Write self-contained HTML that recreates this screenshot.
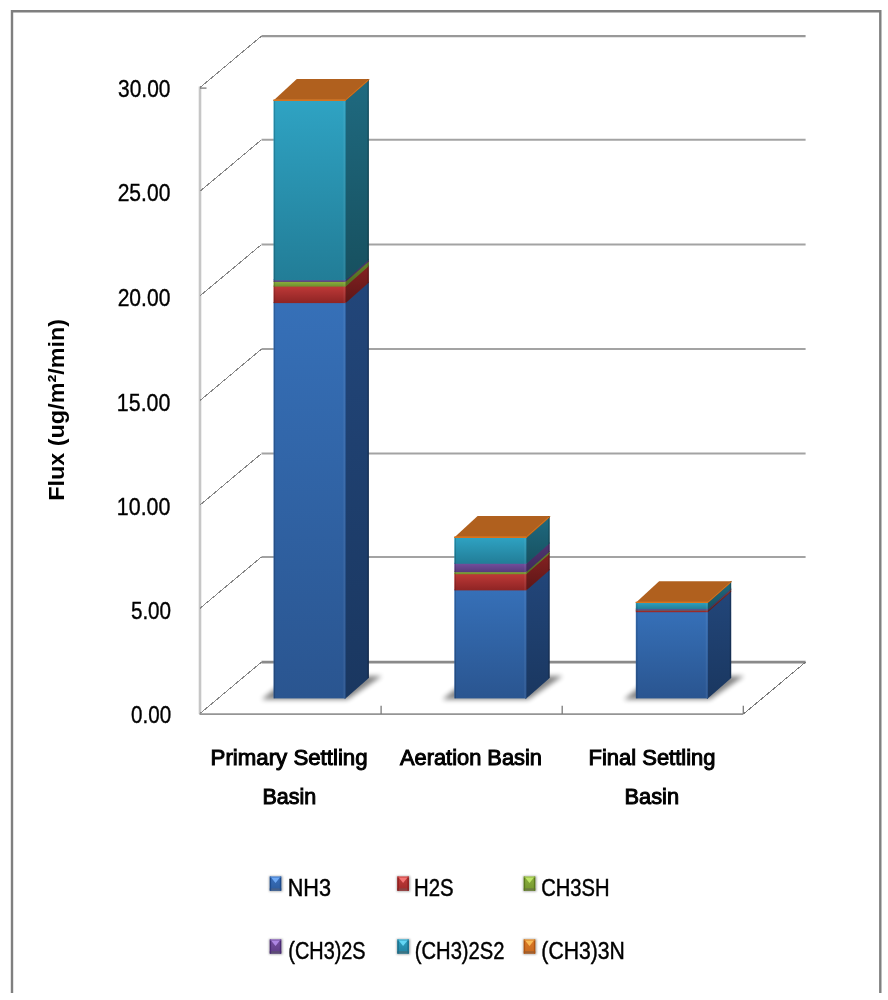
<!DOCTYPE html>
<html><head><meta charset="utf-8"><style>
html,body{margin:0;padding:0;background:#fff;width:888px;height:1000px;overflow:hidden;font-family:"Liberation Sans",sans-serif;}
svg{display:block;filter:blur(0.45px);}
</style></head><body>
<svg width="888" height="1000" viewBox="0 0 888 1000">
<defs>
<linearGradient id="fBlue" x1="0" y1="0" x2="0" y2="1"><stop offset="0" stop-color="#3670b8"/><stop offset="1" stop-color="#2a5590"/></linearGradient>
<linearGradient id="sBlue" x1="0" y1="0" x2="0" y2="1"><stop offset="0" stop-color="#22467a"/><stop offset="1" stop-color="#1a3760"/></linearGradient>
<linearGradient id="fRed" x1="0" y1="0" x2="0" y2="1"><stop offset="0" stop-color="#c03a38"/><stop offset="1" stop-color="#8e2424"/></linearGradient>
<linearGradient id="sRed" x1="0" y1="0" x2="0" y2="1"><stop offset="0" stop-color="#862222"/><stop offset="1" stop-color="#5c1616"/></linearGradient>
<linearGradient id="fGreen" x1="0" y1="0" x2="0" y2="1"><stop offset="0" stop-color="#90b43e"/><stop offset="1" stop-color="#6e8e2e"/></linearGradient>
<linearGradient id="sGreen" x1="0" y1="0" x2="0" y2="1"><stop offset="0" stop-color="#66862a"/><stop offset="1" stop-color="#4e6820"/></linearGradient>
<linearGradient id="fPurple" x1="0" y1="0" x2="0" y2="1"><stop offset="0" stop-color="#75509f"/><stop offset="1" stop-color="#573a7c"/></linearGradient>
<linearGradient id="sPurple" x1="0" y1="0" x2="0" y2="1"><stop offset="0" stop-color="#523572"/><stop offset="1" stop-color="#3e2858"/></linearGradient>
<linearGradient id="fCyan" x1="0" y1="0" x2="0" y2="1"><stop offset="0" stop-color="#2fa3c3"/><stop offset="1" stop-color="#227d97"/></linearGradient>
<linearGradient id="sCyan" x1="0" y1="0" x2="0" y2="1"><stop offset="0" stop-color="#1f6a80"/><stop offset="1" stop-color="#17505f"/></linearGradient>
<linearGradient id="fOrange" x1="0" y1="0" x2="0" y2="1"><stop offset="0" stop-color="#e07a22"/><stop offset="1" stop-color="#d06a1a"/></linearGradient>
<linearGradient id="sOrange" x1="0" y1="0" x2="0" y2="1"><stop offset="0" stop-color="#c06a1a"/><stop offset="1" stop-color="#a85a14"/></linearGradient>
<linearGradient id="mBlue" x1="0" y1="0" x2="0" y2="1"><stop offset="0" stop-color="#3a70bd"/><stop offset="1" stop-color="#2c5c9e"/></linearGradient>
<linearGradient id="mRed" x1="0" y1="0" x2="0" y2="1"><stop offset="0" stop-color="#c03c3a"/><stop offset="1" stop-color="#a02a2a"/></linearGradient>
<linearGradient id="mGreen" x1="0" y1="0" x2="0" y2="1"><stop offset="0" stop-color="#8cb040"/><stop offset="1" stop-color="#74962e"/></linearGradient>
<linearGradient id="mPurple" x1="0" y1="0" x2="0" y2="1"><stop offset="0" stop-color="#7650a0"/><stop offset="1" stop-color="#5e3c86"/></linearGradient>
<linearGradient id="mCyan" x1="0" y1="0" x2="0" y2="1"><stop offset="0" stop-color="#2fa0c0"/><stop offset="1" stop-color="#2280a0"/></linearGradient>
<linearGradient id="mOrange" x1="0" y1="0" x2="0" y2="1"><stop offset="0" stop-color="#dc7a28"/><stop offset="1" stop-color="#c86a20"/></linearGradient>
<filter id="shadow" x="-30%" y="-100%" width="160%" height="300%"><feGaussianBlur stdDeviation="2.6"/></filter>
<filter id="mshadow" x="-50%" y="-50%" width="200%" height="200%"><feGaussianBlur stdDeviation="0.9"/></filter>
</defs>
<rect x="0" y="0" width="888" height="1000" fill="#ffffff"/>
<path d="M12.0,993 L12.0,11.2 L880.3,11.2 L880.3,993" fill="none" stroke="#7f7f7f" stroke-width="2.4"/>
<line x1="200.0" y1="86.50" x2="200.0" y2="714.10" stroke="#c6c6c6" stroke-width="2.6"/>
<line x1="261.50" y1="36.10" x2="805.6" y2="36.10" stroke="#999999" stroke-width="2.3"/>
<line x1="200.00" y1="87.50" x2="261.50" y2="36.10" stroke="#858585" stroke-width="1" shape-rendering="crispEdges"/>
<line x1="261.50" y1="139.80" x2="805.6" y2="139.80" stroke="#a3a3a3" stroke-width="2"/>
<line x1="200.00" y1="191.20" x2="261.50" y2="139.80" stroke="#858585" stroke-width="1" shape-rendering="crispEdges"/>
<line x1="261.50" y1="244.50" x2="805.6" y2="244.50" stroke="#a3a3a3" stroke-width="2"/>
<line x1="200.00" y1="295.90" x2="261.50" y2="244.50" stroke="#858585" stroke-width="1" shape-rendering="crispEdges"/>
<line x1="261.50" y1="349.10" x2="805.6" y2="349.10" stroke="#a3a3a3" stroke-width="2"/>
<line x1="200.00" y1="400.50" x2="261.50" y2="349.10" stroke="#858585" stroke-width="1" shape-rendering="crispEdges"/>
<line x1="261.50" y1="453.60" x2="805.6" y2="453.60" stroke="#a3a3a3" stroke-width="2"/>
<line x1="200.00" y1="505.00" x2="261.50" y2="453.60" stroke="#858585" stroke-width="1" shape-rendering="crispEdges"/>
<line x1="261.50" y1="556.90" x2="805.6" y2="556.90" stroke="#a3a3a3" stroke-width="2"/>
<line x1="200.00" y1="608.30" x2="261.50" y2="556.90" stroke="#858585" stroke-width="1" shape-rendering="crispEdges"/>
<line x1="261.50" y1="662.10" x2="805.6" y2="662.10" stroke="#8a8a8a" stroke-width="2.6"/>
<line x1="200.00" y1="713.50" x2="261.50" y2="662.10" stroke="#858585" stroke-width="1" shape-rendering="crispEdges"/>
<line x1="200.0" y1="88.10" x2="206.5" y2="88.10" stroke="#7a7a7a" stroke-width="1.3"/>
<line x1="199.5" y1="714.10" x2="743.30" y2="714.10" stroke="#959595" stroke-width="1.6"/>
<line x1="743.30" y1="714.10" x2="805.6" y2="662.10" stroke="#7a7a7a" stroke-width="1" shape-rendering="crispEdges"/>
<line x1="381.10" y1="705.80" x2="381.10" y2="714.10" stroke="#7a7a7a" stroke-width="1.3"/>
<line x1="562.20" y1="705.80" x2="562.20" y2="714.10" stroke="#7a7a7a" stroke-width="1.3"/>
<line x1="743.30" y1="705.80" x2="743.30" y2="714.10" stroke="#7a7a7a" stroke-width="1.3"/>
<polygon points="261.50,699.40 347.60,699.60 381.90,675.90 290.80,675.90" fill="#000" opacity="0.48" filter="url(#shadow)"/>
<polygon points="442.30,699.40 528.40,699.60 562.70,675.90 471.60,675.90" fill="#000" opacity="0.48" filter="url(#shadow)"/>
<polygon points="623.80,699.40 709.90,699.60 744.20,675.90 653.10,675.90" fill="#000" opacity="0.48" filter="url(#shadow)"/>
<polygon points="273.50,100.60 346.60,100.60 369.90,79.10 296.80,79.10" fill="#b0601e"/>
<polygon points="344.60,699.28 368.90,677.90 368.90,281.60 344.60,302.98" fill="url(#sBlue)"/>
<polygon points="344.60,303.98 368.90,282.60 368.90,265.10 344.60,286.48" fill="url(#sRed)"/>
<polygon points="344.60,287.48 368.90,266.10 368.90,260.40 344.60,281.78" fill="url(#sGreen)"/>
<polygon points="344.60,282.78 368.90,261.40 368.90,258.80 344.60,280.18" fill="url(#sPurple)"/>
<polygon points="344.60,281.18 368.90,259.80 368.90,79.40 344.60,100.78" fill="url(#sCyan)"/>
<polygon points="344.60,101.78 368.90,80.40 368.90,79.10 344.60,100.48" fill="url(#sOrange)"/>
<rect x="273.50" y="302.10" width="72.10" height="396.30" fill="url(#fBlue)"/>
<rect x="273.50" y="285.60" width="72.10" height="17.50" fill="url(#fRed)"/>
<rect x="273.50" y="280.90" width="72.10" height="5.70" fill="url(#fGreen)"/>
<rect x="273.50" y="279.30" width="72.10" height="2.60" fill="url(#fPurple)"/>
<rect x="273.50" y="99.90" width="72.10" height="180.40" fill="url(#fCyan)"/>
<rect x="273.50" y="99.60" width="72.10" height="1.30" fill="url(#fOrange)"/>
<rect x="274.10" y="101.10" width="1" height="597.30" fill="#000" opacity="0.18"/>
<rect x="343.40" y="101.10" width="1.6" height="597.30" fill="#fff" opacity="0.06"/>
<polygon points="367.50,677.90 368.90,677.90 368.90,79.10 367.50,79.10" fill="#000" opacity="0.22"/>
<rect x="273.50" y="99.60" width="72.10" height="1.2" fill="#d8741e"/>
<line x1="345.60" y1="99.90" x2="368.90" y2="79.40" stroke="#d8741e" stroke-width="0.9"/>
<polygon points="454.30,537.60 527.40,537.60 550.70,516.10 477.60,516.10" fill="#b0601e"/>
<polygon points="525.40,699.28 549.70,677.90 549.70,568.90 525.40,590.28" fill="url(#sBlue)"/>
<polygon points="525.40,591.28 549.70,569.90 549.70,552.70 525.40,574.08" fill="url(#sRed)"/>
<polygon points="525.40,575.08 549.70,553.70 549.70,550.70 525.40,572.08" fill="url(#sGreen)"/>
<polygon points="525.40,573.08 549.70,551.70 549.70,542.30 525.40,563.68" fill="url(#sPurple)"/>
<polygon points="525.40,564.68 549.70,543.30 549.70,516.50 525.40,537.88" fill="url(#sCyan)"/>
<polygon points="525.40,538.88 549.70,517.50 549.70,516.10 525.40,537.48" fill="url(#sOrange)"/>
<rect x="454.30" y="589.40" width="72.10" height="109.00" fill="url(#fBlue)"/>
<rect x="454.30" y="573.20" width="72.10" height="17.20" fill="url(#fRed)"/>
<rect x="454.30" y="571.20" width="72.10" height="3.00" fill="url(#fGreen)"/>
<rect x="454.30" y="562.80" width="72.10" height="9.40" fill="url(#fPurple)"/>
<rect x="454.30" y="537.00" width="72.10" height="26.80" fill="url(#fCyan)"/>
<rect x="454.30" y="536.60" width="72.10" height="1.40" fill="url(#fOrange)"/>
<rect x="454.90" y="538.10" width="1" height="160.30" fill="#000" opacity="0.18"/>
<rect x="524.20" y="538.10" width="1.6" height="160.30" fill="#fff" opacity="0.06"/>
<polygon points="548.30,677.90 549.70,677.90 549.70,516.10 548.30,516.10" fill="#000" opacity="0.22"/>
<rect x="454.30" y="536.60" width="72.10" height="1.2" fill="#d8741e"/>
<line x1="526.40" y1="536.90" x2="549.70" y2="516.40" stroke="#d8741e" stroke-width="0.9"/>
<polygon points="635.80,602.80 708.90,602.80 732.20,581.30 659.10,581.30" fill="#b0601e"/>
<polygon points="706.90,699.28 731.20,677.90 731.20,590.70 706.90,612.08" fill="url(#sBlue)"/>
<polygon points="706.90,613.08 731.20,591.70 731.20,589.20 706.90,610.58" fill="url(#sRed)"/>
<polygon points="706.90,611.58 731.20,590.20 731.20,589.10 706.90,610.48" fill="url(#sGreen)"/>
<polygon points="706.90,611.48 731.20,590.10 731.20,587.80 706.90,609.18" fill="url(#sPurple)"/>
<polygon points="706.90,610.18 731.20,588.80 731.20,581.50 706.90,602.88" fill="url(#sCyan)"/>
<polygon points="706.90,603.88 731.20,582.50 731.20,581.30 706.90,602.68" fill="url(#sOrange)"/>
<rect x="635.80" y="611.20" width="72.10" height="87.20" fill="url(#fBlue)"/>
<rect x="635.80" y="609.70" width="72.10" height="2.50" fill="url(#fRed)"/>
<rect x="635.80" y="609.60" width="72.10" height="1.10" fill="url(#fGreen)"/>
<rect x="635.80" y="608.30" width="72.10" height="2.30" fill="url(#fPurple)"/>
<rect x="635.80" y="602.00" width="72.10" height="7.30" fill="url(#fCyan)"/>
<rect x="635.80" y="601.80" width="72.10" height="1.20" fill="url(#fOrange)"/>
<rect x="636.40" y="603.30" width="1" height="95.10" fill="#000" opacity="0.18"/>
<rect x="705.70" y="603.30" width="1.6" height="95.10" fill="#fff" opacity="0.06"/>
<polygon points="729.80,677.90 731.20,677.90 731.20,581.30 729.80,581.30" fill="#000" opacity="0.22"/>
<rect x="635.80" y="601.80" width="72.10" height="1.2" fill="#d8741e"/>
<line x1="707.90" y1="602.10" x2="731.20" y2="581.60" stroke="#d8741e" stroke-width="0.9"/>
<text x="118.10" y="97.00" font-family="Liberation Sans, sans-serif" font-size="23" font-weight="normal" fill="#000" stroke="#000" stroke-width="0.35" textLength="52.35" lengthAdjust="spacingAndGlyphs">30.00</text>
<text x="117.67" y="201.40" font-family="Liberation Sans, sans-serif" font-size="23" font-weight="normal" fill="#000" stroke="#000" stroke-width="0.35" textLength="52.69" lengthAdjust="spacingAndGlyphs">25.00</text>
<text x="117.67" y="306.40" font-family="Liberation Sans, sans-serif" font-size="23" font-weight="normal" fill="#000" stroke="#000" stroke-width="0.35" textLength="52.69" lengthAdjust="spacingAndGlyphs">20.00</text>
<text x="116.87" y="411.00" font-family="Liberation Sans, sans-serif" font-size="23" font-weight="normal" fill="#000" stroke="#000" stroke-width="0.35" textLength="53.50" lengthAdjust="spacingAndGlyphs">15.00</text>
<text x="116.87" y="515.40" font-family="Liberation Sans, sans-serif" font-size="23" font-weight="normal" fill="#000" stroke="#000" stroke-width="0.35" textLength="53.50" lengthAdjust="spacingAndGlyphs">10.00</text>
<text x="130.90" y="618.70" font-family="Liberation Sans, sans-serif" font-size="23" font-weight="normal" fill="#000" stroke="#000" stroke-width="0.35" textLength="40.20" lengthAdjust="spacingAndGlyphs">5.00</text>
<text x="131.02" y="723.40" font-family="Liberation Sans, sans-serif" font-size="23" font-weight="normal" fill="#000" stroke="#000" stroke-width="0.35" textLength="40.08" lengthAdjust="spacingAndGlyphs">0.00</text>
<text x="210.63" y="764.70" font-family="Liberation Sans, sans-serif" font-size="22" font-weight="normal" fill="#000" stroke="#000" stroke-width="1.0" textLength="156.99" lengthAdjust="spacingAndGlyphs">Primary Settling</text>
<text x="262.49" y="803.70" font-family="Liberation Sans, sans-serif" font-size="22" font-weight="normal" fill="#000" stroke="#000" stroke-width="1.0" textLength="53.80" lengthAdjust="spacingAndGlyphs">Basin</text>
<text x="399.98" y="764.70" font-family="Liberation Sans, sans-serif" font-size="22" font-weight="normal" fill="#000" stroke="#000" stroke-width="1.0" textLength="141.98" lengthAdjust="spacingAndGlyphs">Aeration Basin</text>
<text x="588.55" y="764.70" font-family="Liberation Sans, sans-serif" font-size="22" font-weight="normal" fill="#000" stroke="#000" stroke-width="1.0" textLength="126.98" lengthAdjust="spacingAndGlyphs">Final Settling</text>
<text x="624.57" y="803.70" font-family="Liberation Sans, sans-serif" font-size="22" font-weight="normal" fill="#000" stroke="#000" stroke-width="1.0" textLength="54.54" lengthAdjust="spacingAndGlyphs">Basin</text>
<text transform="translate(63.6,500.79) rotate(-90)" x="0" y="0" font-family="Liberation Sans, sans-serif" font-size="22" font-weight="bold" fill="#000" textLength="181.86" lengthAdjust="spacingAndGlyphs">Flux (ug/m²/min)</text>
<rect x="269.20" y="876.10" width="13.20" height="15.40" fill="#000" opacity="0.35" filter="url(#mshadow)"/>
<rect x="269.80" y="876.50" width="11.40" height="14.20" fill="url(#mBlue)"/>
<polygon points="271.30,877.80 279.70,877.80 275.50,883.00" fill="#78b4ff" opacity="0.85"/>
<rect x="269.80" y="888.30" width="11.40" height="2.4" fill="#44608c"/>
<rect x="269.80" y="876.50" width="1.3" height="14.20" fill="#1c4a8c"/>
<rect x="279.90" y="876.50" width="1.3" height="14.20" fill="#1c4a8c"/>
<rect x="269.80" y="876.50" width="11.40" height="1.1" fill="#78b4ff" opacity="0.5"/>
<text x="287.63" y="895.80" font-family="Liberation Sans, sans-serif" font-size="23" font-weight="normal" fill="#000" stroke="#000" stroke-width="0.45" textLength="43.32" lengthAdjust="spacingAndGlyphs">NH3</text>
<rect x="396.80" y="876.10" width="13.20" height="15.40" fill="#000" opacity="0.35" filter="url(#mshadow)"/>
<rect x="397.40" y="876.50" width="11.40" height="14.20" fill="url(#mRed)"/>
<polygon points="398.90,877.80 407.30,877.80 403.10,883.00" fill="#ff8080" opacity="0.85"/>
<rect x="397.40" y="888.30" width="11.40" height="2.4" fill="#8c4040"/>
<rect x="397.40" y="876.50" width="1.3" height="14.20" fill="#8a1c1c"/>
<rect x="407.50" y="876.50" width="1.3" height="14.20" fill="#8a1c1c"/>
<rect x="397.40" y="876.50" width="11.40" height="1.1" fill="#ff8080" opacity="0.5"/>
<text x="414.04" y="895.80" font-family="Liberation Sans, sans-serif" font-size="23" font-weight="normal" fill="#000" stroke="#000" stroke-width="0.45" textLength="39.65" lengthAdjust="spacingAndGlyphs">H2S</text>
<rect x="523.20" y="876.10" width="13.20" height="15.40" fill="#000" opacity="0.35" filter="url(#mshadow)"/>
<rect x="523.80" y="876.50" width="11.40" height="14.20" fill="url(#mGreen)"/>
<polygon points="525.30,877.80 533.70,877.80 529.50,883.00" fill="#c8f070" opacity="0.85"/>
<rect x="523.80" y="888.30" width="11.40" height="2.4" fill="#6c7c40"/>
<rect x="523.80" y="876.50" width="1.3" height="14.20" fill="#5a7a1c"/>
<rect x="533.90" y="876.50" width="1.3" height="14.20" fill="#5a7a1c"/>
<rect x="523.80" y="876.50" width="11.40" height="1.1" fill="#c8f070" opacity="0.5"/>
<text x="541.21" y="895.80" font-family="Liberation Sans, sans-serif" font-size="23" font-weight="normal" fill="#000" stroke="#000" stroke-width="0.45" textLength="68.40" lengthAdjust="spacingAndGlyphs">CH3SH</text>
<rect x="269.20" y="939.00" width="13.20" height="15.40" fill="#000" opacity="0.35" filter="url(#mshadow)"/>
<rect x="269.80" y="939.40" width="11.40" height="14.20" fill="url(#mPurple)"/>
<polygon points="271.30,940.70 279.70,940.70 275.50,945.90" fill="#b890f0" opacity="0.85"/>
<rect x="269.80" y="951.20" width="11.40" height="2.4" fill="#5c4c74"/>
<rect x="269.80" y="939.40" width="1.3" height="14.20" fill="#4a2a74"/>
<rect x="279.90" y="939.40" width="1.3" height="14.20" fill="#4a2a74"/>
<rect x="269.80" y="939.40" width="11.40" height="1.1" fill="#b890f0" opacity="0.5"/>
<text x="288.31" y="958.60" font-family="Liberation Sans, sans-serif" font-size="23" font-weight="normal" fill="#000" stroke="#000" stroke-width="0.45" textLength="77.33" lengthAdjust="spacingAndGlyphs">(CH3)2S</text>
<rect x="396.80" y="939.00" width="13.20" height="15.40" fill="#000" opacity="0.35" filter="url(#mshadow)"/>
<rect x="397.40" y="939.40" width="11.40" height="14.20" fill="url(#mCyan)"/>
<polygon points="398.90,940.70 407.30,940.70 403.10,945.90" fill="#70e0ff" opacity="0.85"/>
<rect x="397.40" y="951.20" width="11.40" height="2.4" fill="#3c7484"/>
<rect x="397.40" y="939.40" width="1.3" height="14.20" fill="#186a88"/>
<rect x="407.50" y="939.40" width="1.3" height="14.20" fill="#186a88"/>
<rect x="397.40" y="939.40" width="11.40" height="1.1" fill="#70e0ff" opacity="0.5"/>
<text x="414.79" y="958.60" font-family="Liberation Sans, sans-serif" font-size="23" font-weight="normal" fill="#000" stroke="#000" stroke-width="0.45" textLength="89.71" lengthAdjust="spacingAndGlyphs">(CH3)2S2</text>
<rect x="523.20" y="939.00" width="13.20" height="15.40" fill="#000" opacity="0.35" filter="url(#mshadow)"/>
<rect x="523.80" y="939.40" width="11.40" height="14.20" fill="url(#mOrange)"/>
<polygon points="525.30,940.70 533.70,940.70 529.50,945.90" fill="#ffc860" opacity="0.85"/>
<rect x="523.80" y="951.20" width="11.40" height="2.4" fill="#a06030"/>
<rect x="523.80" y="939.40" width="1.3" height="14.20" fill="#b05510"/>
<rect x="533.90" y="939.40" width="1.3" height="14.20" fill="#b05510"/>
<rect x="523.80" y="939.40" width="11.40" height="1.1" fill="#ffc860" opacity="0.5"/>
<text x="541.33" y="958.60" font-family="Liberation Sans, sans-serif" font-size="23" font-weight="normal" fill="#000" stroke="#000" stroke-width="0.45" textLength="83.58" lengthAdjust="spacingAndGlyphs">(CH3)3N</text>
</svg>
</body></html>
